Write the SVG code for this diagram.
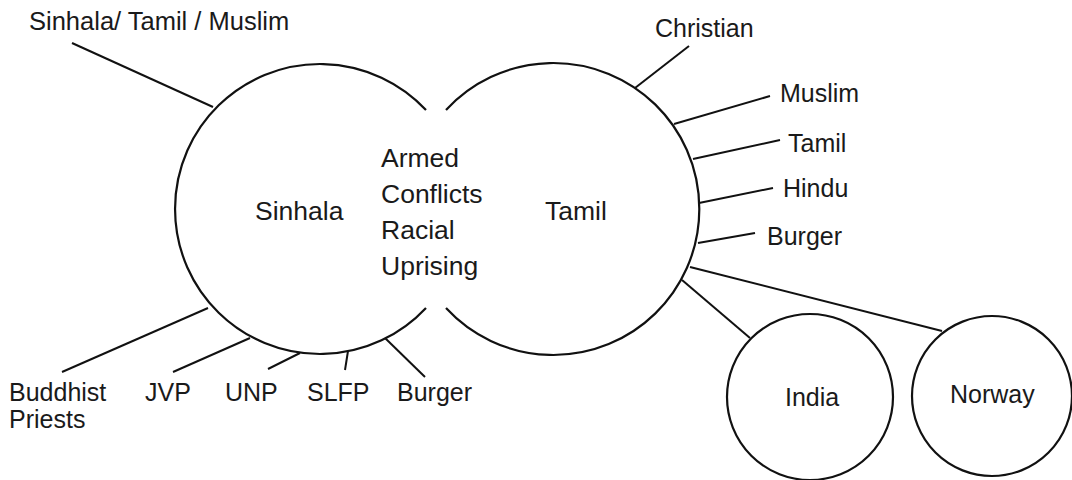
<svg xmlns="http://www.w3.org/2000/svg" width="1072" height="480" viewBox="0 0 1072 480">
<style>
.c{fill:none;stroke:#111;stroke-width:2.2}
.l{stroke:#111;stroke-width:2;fill:none}
text{font-family:"Liberation Sans",Arial,sans-serif;font-size:25px;fill:#1a1a1a}
.big{font-size:26.5px}
</style>
<rect width="1072" height="480" fill="#fff"/>
<g id="connectors">
<line class="l" x1="213" y1="107" x2="72" y2="43"/>
<line class="l" x1="208" y1="308" x2="62" y2="372"/>
<line class="l" x1="250" y1="338" x2="173" y2="372"/>
<line class="l" x1="300" y1="353" x2="268" y2="369"/>
<line class="l" x1="348" y1="351" x2="345" y2="370"/>
<line class="l" x1="385" y1="338" x2="425" y2="377"/>
<line class="l" x1="635" y1="88" x2="689" y2="46"/>
<line class="l" x1="674" y1="124" x2="770" y2="96"/>
<line class="l" x1="693" y1="159" x2="780" y2="140"/>
<line class="l" x1="699" y1="203" x2="773" y2="188"/>
<line class="l" x1="698" y1="243" x2="755" y2="233"/>
<line class="l" x1="682" y1="280" x2="750" y2="338"/>
<line class="l" x1="690" y1="267" x2="942" y2="331"/>
</g>
<g id="sinhala">
<path class="c" d="M426,110 A145,145 0 1 0 426,308"/>
<text class="big" x="255" y="220">Sinhala</text>
</g>
<g id="tamil">
<path class="c" d="M446,110 A146,146 0 1 1 446,308"/>
<text class="big" x="545" y="220">Tamil</text>
</g>
<g id="conflict">
<text class="big" x="381" y="167">Armed</text>
<text class="big" x="381" y="203">Conflicts</text>
<text class="big" x="381" y="239">Racial</text>
<text class="big" x="381" y="275">Uprising</text>
</g>
<g id="india">
<circle class="c" cx="810" cy="397" r="83"/>
<text x="785" y="406">India</text>
</g>
<g id="norway">
<circle class="c" cx="992" cy="396" r="80"/>
<text x="950" y="403">Norway</text>
</g>
<g id="label-stm"><text x="29" y="30" style="font-size:25.5px">Sinhala/ Tamil / Muslim</text></g>
<g id="label-buddhist"><text x="9" y="401">Buddhist</text><text x="9" y="428">Priests</text></g>
<g id="label-jvp"><text x="145" y="401">JVP</text></g>
<g id="label-unp"><text x="225" y="401">UNP</text></g>
<g id="label-slfp"><text x="307" y="401">SLFP</text></g>
<g id="label-burger-l"><text x="397" y="401">Burger</text></g>
<g id="label-christian"><text x="655" y="37">Christian</text></g>
<g id="label-muslim"><text x="780" y="102">Muslim</text></g>
<g id="label-tamil-r"><text x="788" y="152">Tamil</text></g>
<g id="label-hindu"><text x="783" y="197">Hindu</text></g>
<g id="label-burger-r"><text x="767" y="245">Burger</text></g>
</svg>
